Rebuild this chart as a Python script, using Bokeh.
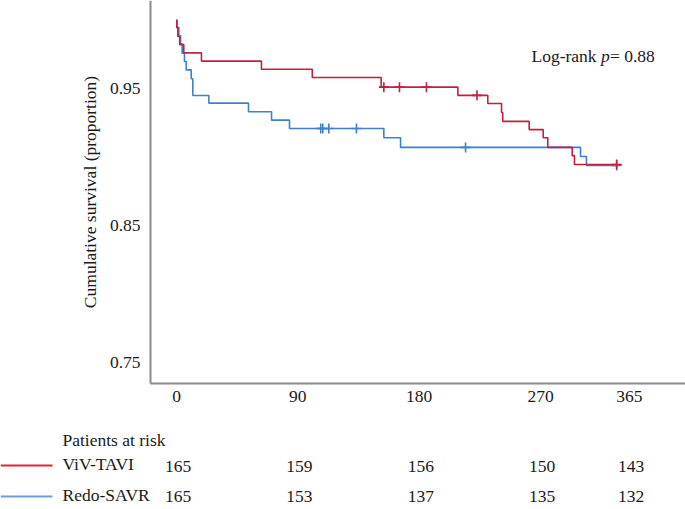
from bokeh.plotting import figure
from bokeh.models import Range1d, FixedTicker, Label, LinearAxis
from bokeh.embed import file_html
from bokeh.resources import INLINE
from bokeh.core.properties import value

# ---------------- data ----------------
# Kaplan-Meier steps: event day and survival just after the event
tavi_days = [0.2, 1.0, 2.4, 5.4, 18.5, 63.0, 100.7, 151.8, 208.7, 230.9,
             241.1, 242.0, 261.6, 272.0, 275.4, 293.5, 295.2]
tavi_surv = [0.9944, 0.988, 0.982, 0.976, 0.970, 0.964, 0.958, 0.951, 0.945,
             0.939, 0.9325, 0.926, 0.920, 0.914, 0.907, 0.901, 0.8945]
tavi_censor_days = [153.8, 165.4, 185.4, 222.9, 326.5]

savr_days = [0.4, 1.7, 3.0, 4.2, 5.9, 7.2, 10.9, 12.1, 24.0, 53.4, 70.5,
             83.8, 153.8, 166.2, 299.7, 304.1]
savr_surv = [0.9947, 0.9887, 0.9826, 0.9758, 0.9697, 0.9636, 0.9571, 0.9449,
             0.9393, 0.933, 0.9269, 0.9208, 0.914, 0.907, 0.9004, 0.8938]
savr_censor_days = [107.0, 108.5, 113.0, 133.5, 214.4, 326.5]

followup_end = 326.5

# x tick labels and where the reference prints them on its time axis
tick_labels = ["0", "90", "180", "270", "365"]
tick_pos = [0, 90, 180, 270, 336]

y_ticks = [0.75, 0.85, 0.95]
y_tick_labels = ["0.75", "0.85", "0.95"]

groups = ["ViV-TAVI", "Redo-SAVR"]
at_risk_tavi = [165, 159, 156, 150, 143]
at_risk_savr = [165, 153, 137, 135, 132]

log_rank_p = "0.88"

# ---------------- style / layout ----------------
FONT = "Liberation Serif"
FS = "17.5px"
TXT = "#1a1a1a"
RED = "#c41f3c"
BLUE = "#3f80cc"
RED_LEG = "#e5242f"
BLUE_LEG = "#6a9fd8"
AXIS = "#8a8a8a"

W, H = 685, 509
AX_LEFT_PX = 150      # canvas x of the survival axis
AX_BOTTOM_PX = 383    # canvas y of the time axis

PX_PER_DAY = 364.0 / 270.0
DAY0_PX = 176.0
def day_at(px):
    return (px - DAY0_PX) / PX_PER_DAY

PX_PER_UNIT = 1370.0
Y095_PX = 88.0
def val_at(py):
    return 0.95 + (Y095_PX - py) / PX_PER_UNIT


def surv_at(days, surv, t):
    s = 1.0
    for d, v in zip(days, surv):
        if d <= t:
            s = v
    return s


p = figure(width=W, height=H,
           x_range=Range1d(day_at(0), day_at(W)),
           y_range=Range1d(val_at(H), val_at(0)),
           x_axis_type=None, y_axis_type=None,
           toolbar_location=None, output_backend="svg",
           min_border_left=0, min_border_right=0, min_border_top=0, min_border_bottom=0)
p.extra_y_ranges = {"px": Range1d(H, 0)}
p.outline_line_color = None
p.background_fill_color = "white"

# ---------------- axes ----------------
xaxis = LinearAxis(fixed_location=val_at(AX_BOTTOM_PX), bounds=(day_at(AX_LEFT_PX), day_at(W)),
                   ticker=FixedTicker(ticks=tick_pos),
                   major_label_overrides={t: l for t, l in zip(tick_pos, tick_labels)})
yaxis = LinearAxis(fixed_location=day_at(AX_LEFT_PX), bounds=(val_at(AX_BOTTOM_PX), val_at(0)),
                   ticker=FixedTicker(ticks=y_ticks),
                   major_label_overrides={t: l for t, l in zip(y_ticks, y_tick_labels)})
for ax in (xaxis, yaxis):
    ax.axis_line_color = AXIS
    ax.axis_line_width = 2
    ax.major_tick_line_color = None
    ax.minor_tick_line_color = None
    ax.major_tick_out = 0
    ax.major_tick_in = 0
    ax.major_label_text_font = FONT
    ax.major_label_text_font_size = FS
    ax.major_label_text_color = TXT
xaxis.major_label_standoff = 7
yaxis.major_label_standoff = 10
yaxis.axis_label = "Cumulative survival (proportion)"
yaxis.axis_label_text_font = FONT
yaxis.axis_label_text_font_size = FS
yaxis.axis_label_text_font_style = "normal"
yaxis.axis_label_text_color = TXT
yaxis.axis_label_standoff = 7
p.add_layout(xaxis, "below")
p.add_layout(yaxis, "left")

# ---------------- KM curves ----------------
for days, surv, col in [(savr_days, savr_surv, BLUE), (tavi_days, tavi_surv, RED)]:
    xs = [0.0] + days + [followup_end]
    ys = [1.0] + surv + [surv[-1]]
    p.step(xs, ys, mode="after", line_color=col, line_width=1.6)

for days, surv, cdays, col in [(savr_days, savr_surv, savr_censor_days, BLUE),
                               (tavi_days, tavi_surv, tavi_censor_days, RED)]:
    cy = [surv_at(days, surv, t) for t in cdays]
    p.scatter(cdays, cy, marker="cross", size=10, line_color=col, line_width=1.6)

# log-rank annotation
lx = day_at(531)
for txt, off, style in [("Log-rank ", 0, "normal"), ("p", 69.5, "italic"),
                        ("= " + log_rank_p, 78.5, "normal")]:
    p.add_layout(Label(x=lx, y=55, y_range_name="px", x_offset=off, text=txt,
                       text_font=FONT, text_font_size=FS, text_font_style=style,
                       text_color=TXT, text_baseline="middle", text_align="left"))

# ---------------- numbers-at-risk table ----------------
header_y = 439
row_label_y = [463.5, 494]
row_num_y = [466, 496]
line_y = [465, 496]
label_x = day_at(62)

p.text(x=[label_x], y=[header_y], y_range_name="px", text=["Patients at risk"],
       text_font=value(FONT), text_font_size=FS, text_color=TXT,
       text_baseline="middle", text_align="left")
for g, ly_, ny, lny, counts, lc in zip(groups, row_label_y, row_num_y, line_y,
                                       [at_risk_tavi, at_risk_savr], [RED_LEG, BLUE_LEG]):
    p.segment(x0=[day_at(0)], y0=[lny], x1=[day_at(52)], y1=[lny], y_range_name="px",
              line_color=lc, line_width=2)
    p.text(x=[label_x], y=[ly_], y_range_name="px", text=[g], text_font=value(FONT),
           text_font_size=FS, text_color=TXT, text_baseline="middle", text_align="left")
    p.text(x=[tp + 1.2 for tp in tick_pos], y=[ny] * len(counts), y_range_name="px",
           text=[str(c) for c in counts], text_font=value(FONT), text_font_size=FS,
           text_color=TXT, text_baseline="middle", text_align="center")

open("out.html", "w").write(file_html(p, INLINE))
